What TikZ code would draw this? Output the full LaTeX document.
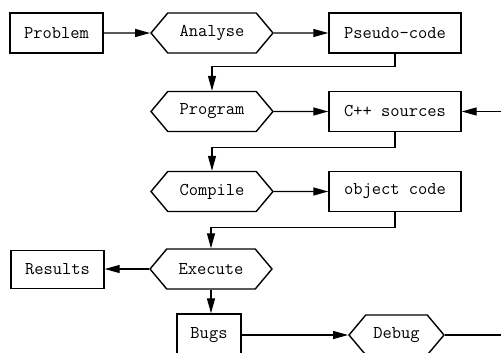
\documentclass[tikz,border=0pt]{standalone}
\usepackage{tikz}
\usetikzlibrary{shapes.symbols,arrows.meta}

\begin{document}
\begin{tikzpicture}[
        x=1pt, y=-1pt,
        >={Triangle[length=15pt,width=8pt]},
        every node/.style={font=\fontsize{18}{21}\ttfamily},
        box/.style={draw, line width=1.4pt, minimum height=40pt, inner sep=0pt},
        action/.style={draw, line width=1.4pt, shape=signal, signal to=west and east,
                       signal pointer angle=100, minimum height=40pt, minimum width=122pt, inner sep=0pt},
        flow/.style={->, line width=1.3pt},
    ]
    \useasboundingbox (0,0) rectangle (501,353);
    \clip (0,0) rectangle (501,353);

    %Top row
    \node [box, minimum width=93pt] (problem) at (56.5,33) {Problem};
    \node [action] (analyse) at (212,33) {Analyse};
    \node [box, minimum width=132pt] (pseudo) at (395,33) {Pseudo-code};

    %Programming
    \node [action] (program) at (212,111.5) {Program};
    \node [box, minimum width=132pt] (sources) at (395,111.5) {C++ sources};

    %Compiling
    \node [action] (compile) at (212,191.5) {Compile};
    \node [box, minimum width=132pt] (object) at (395,191.5) {object code};

    %Running
    \node [action] (execute) at (211,269) {Execute};
    \node [box, minimum width=93pt, minimum height=38pt] (results) at (57.5,269.5) {Results};
    \node [box, minimum width=64pt, minimum height=42pt] (bugs) at (209,335) {Bugs};
    \node [action, minimum width=95pt] (debug) at (396.5,335) {Debug};

    %Loose ends off the picture
    \coordinate (fixin) at (510,111.5);
    \coordinate (fixout) at (510,335);

    %Arrows
    \draw [flow] (problem) -- (analyse);
    \draw [flow] (analyse) -- (pseudo);
    \draw [flow] (pseudo.south) -- ++(0,13) -| (program.north);
    \draw [flow] (program) -- (sources);
    \draw [flow] (fixin) -- (sources.east);
    \draw [flow] (sources.south) -- ++(0,15) -| (compile.north);
    \draw [flow] (compile) -- (object);
    \draw [flow] (object.south) -- ++(0,15) -| (execute.north);
    \draw [flow] (execute.west) -- (execute.west -| results.east);
    \draw [flow] (execute.south) -- (execute.south |- bugs.north);
    \draw [flow] (bugs.east) -- (debug.west);
    \draw [line width=1.3pt] (debug.east) -- (fixout);
\end{tikzpicture}
\end{document}
